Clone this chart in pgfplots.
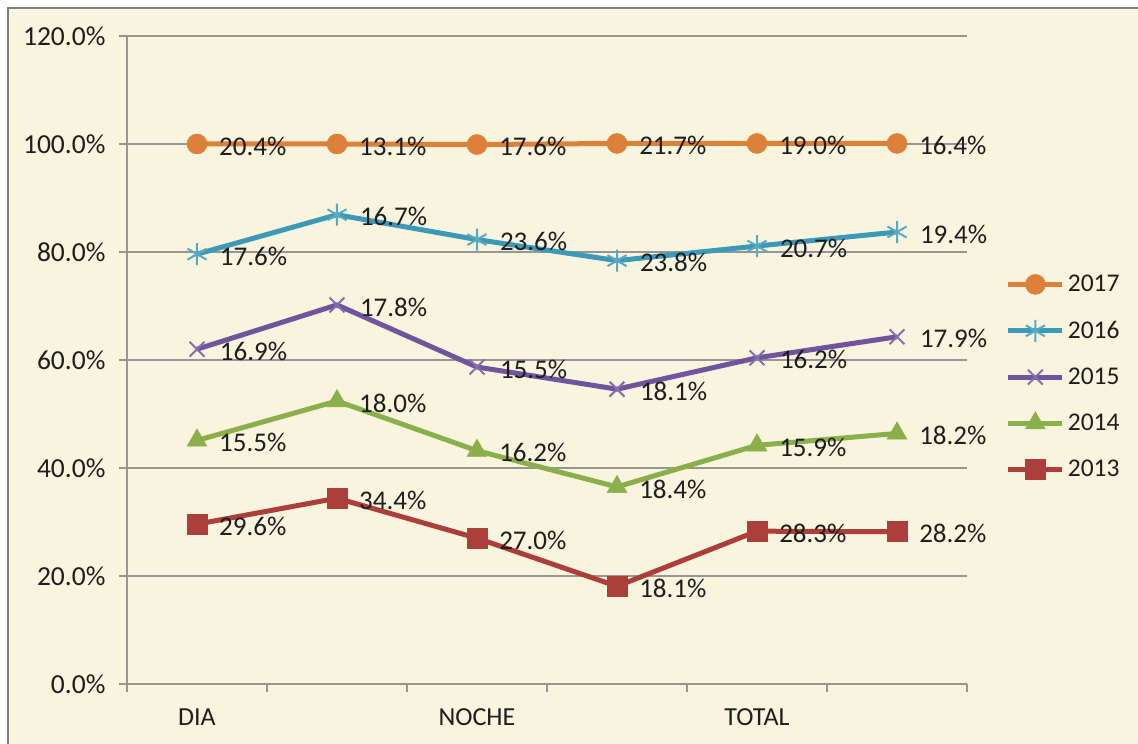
\documentclass[border=0pt]{standalone}
\usepackage{fontspec}
\setmainfont{Carlito}
\usepackage{pgfplots}
\usepackage{pgfplotstable}
\pgfplotsset{compat=1.18}
\definecolor{cream}{RGB}{248,244,222}
\definecolor{cOr}{RGB}{221,128,58}
\definecolor{cBl}{RGB}{60,154,184}
\definecolor{cPu}{RGB}{112,84,158}
\definecolor{cGr}{RGB}{139,175,74}
\definecolor{cRe}{RGB}{172,62,60}
\definecolor{txt}{RGB}{30,30,30}
\definecolor{gridc}{RGB}{150,150,150}

\pgfplotstableread{
x y
0 29.6
1 34.4
2 27.0
3 18.1
4 28.3
5 28.2
}\tA
\pgfplotstableread{
x y
0 15.5
1 18.0
2 16.2
3 18.4
4 15.9
5 18.2
}\tB
\pgfplotstableread{
x y
0 16.9
1 17.8
2 15.5
3 18.1
4 16.2
5 17.9
}\tC
\pgfplotstableread{
x y
0 17.6
1 16.7
2 23.6
3 23.8
4 20.7
5 19.4
}\tD
\pgfplotstableread{
x y
0 20.4
1 13.1
2 17.6
3 21.7
4 19.0
5 16.4
}\tE

\begin{document}
\begin{tikzpicture}[x=1pt,y=1pt]
\useasboundingbox (-127,-60) rectangle (1011,684);
\fill[cream] (-119,-60) rectangle (1011,676);
\draw[gray, line width=2pt] (-119,-60) -- (-119,676) -- (1011,676);
\begin{axis}[
  at={(0,0)}, anchor=south west,
  scale only axis, width=840pt, height=648pt,
  xmin=-0.5, xmax=5.5, ymin=0, ymax=120,
  stack plots=y,
  axis x line*=bottom, axis y line*=left,
  axis line style={-, draw=gridc, line width=1.2pt},
  xtick={-0.5,0.5,...,5.5}, xticklabels={},
  extra x ticks={0,2,4}, extra x tick labels={DIA,NOCHE,TOTAL},
  extra x tick style={major tick length=0pt, xticklabel style={yshift=-21pt}},
  ytick={0,20,...,120},
  yticklabel={\pgfmathprintnumber[fixed,fixed zerofill,precision=1]{\tick}\%},
  /pgf/number format/assume math mode=true,
  tick align=outside, major tick length=8pt,
  tick style={draw=gridc, line width=1.2pt},
  ymajorgrids, grid style={draw=gridc, line width=1.2pt},
  ticklabel style={font=\fontsize{26}{30}\selectfont, text=txt},
  yticklabel style={xshift=-10pt, font=\fontsize{27.5}{30}\selectfont},
  point meta=explicit,
  nodes near coords={\pgfmathprintnumber[fixed,fixed zerofill,precision=1]{\pgfplotspointmeta}\%},
  every node near coord/.style={anchor=west, inner sep=0pt, xshift=22pt, yshift=-2pt,
    font=\fontsize{27}{30}\selectfont, text=txt},
  every axis plot/.append style={line width=5pt},
  reverse legend,
  legend style={at={(1.046,0.474)}, anchor=west, draw=none, fill=none,
    font=\fontsize{25.5}{28}\selectfont, text=txt, row sep=22pt,
    inner sep=0pt, nodes={inner sep=3pt}},
  legend cell align=left,
  legend image code/.code={\draw[mark repeat=2,mark phase=2,line width=5pt] plot coordinates {(0pt,0pt) (27pt,0pt) (54pt,0pt)};},
  clip=false,
]
\addplot[cRe, mark=square*, mark size=10pt, mark options={line width=0.5pt, fill=cRe, draw=cRe}] table[x=x,y=y,meta=y] {\tA};
\addlegendentry{2013}
\addplot[cGr, mark=triangle*, mark size=11.5pt, mark options={line width=0.5pt, fill=cGr, draw=cGr}] table[x=x,y=y,meta=y] {\tB};
\addlegendentry{2014}
\addplot[cPu, mark=x, mark size=10.5pt, mark options={line width=2pt, draw=cPu!85!white}] table[x=x,y=y,meta=y] {\tC};
\addlegendentry{2015}
\addplot[cBl, mark=asterisk, mark size=11pt, mark options={line width=2pt, draw=cBl!85!white}] table[x=x,y=y,meta=y] {\tD};
\addlegendentry{2016}
\addplot[cOr, mark=*, mark size=10pt, mark options={line width=0.5pt, fill=cOr, draw=cOr}] table[x=x,y=y,meta=y] {\tE};
\addlegendentry{2017}
\end{axis}
\end{tikzpicture}
\end{document}
